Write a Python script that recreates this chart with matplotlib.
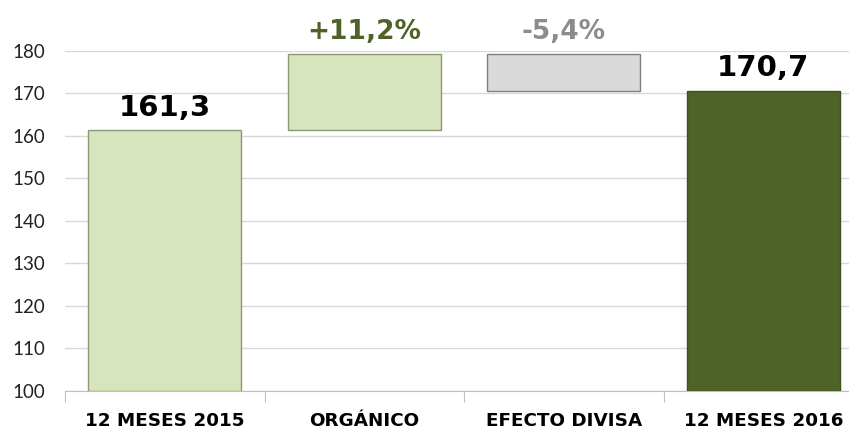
import matplotlib.pyplot as plt

categorias = ["12 MESES 2015", "ORGÁNICO", "EFECTO DIVISA", "12 MESES 2016"]
inicio = [100, 161.3, 170.7, 100]
fin = [161.3, 179.4, 179.4, 170.7]
etiquetas = ["161,3", "+11,2%", "-5,4%", "170,7"]

colores = ["#d7e4bd", "#d7e4bd", "#d9d9d9", "#4f6228"]
bordes = ["#8a9a74", "#8a9a74", "#808080", "#3f4f20"]
colores_texto = ["black", "#4f6228", "#8c8c8c", "black"]
tamanos = [21, 19, 19, 21]

plt.rcParams['font.family'] = ['Lato', 'DejaVu Sans']
negrita = ['DejaVu Sans']

fig = plt.figure(figsize=(8.49, 4.32), dpi=100)
# el area de datos se sale un poco por la derecha, como en el original
ax = fig.add_axes([65 / 849, 41 / 432, 798 / 849, 340 / 432])

x = range(len(categorias))
alturas = [f - i for i, f in zip(inicio, fin)]
ax.bar(x, alturas, bottom=inicio, width=0.767, color=colores,
       edgecolor=bordes, linewidth=1, zorder=3)

for i in x:
    ax.annotate(etiquetas[i], (i, fin[i]), xytext=(0, 6), textcoords='offset points',
                ha='center', va='bottom', fontsize=tamanos[i], fontweight='bold',
                family=negrita, color=colores_texto[i], annotation_clip=False)

ax.set_xlim(-0.5, 3.5)
ax.set_ylim(100, 180)
ax.set_yticks(range(100, 181, 10))
ax.grid(axis='y', color='#d9d9d9', linewidth=1, zorder=0)
ax.tick_params(axis='y', length=0, labelsize=13.5, pad=14, labelcolor='#222222')

ax.set_xticks([-0.5, 0.5, 1.5, 2.5, 3.5])
ax.set_xticklabels([])
ax.set_xticks(list(x), minor=True)
ax.set_xticklabels(categorias, minor=True, fontsize=13.2, fontweight='bold', family=negrita)
ax.tick_params(axis='x', which='major', length=8, color='#bfbfbf', direction='out')
ax.tick_params(axis='x', which='minor', length=0, pad=15)

for lado in ['top', 'right', 'left']:
    ax.spines[lado].set_visible(False)
ax.spines['bottom'].set_color('#bfbfbf')

fig.savefig('out.png', dpi=100)
